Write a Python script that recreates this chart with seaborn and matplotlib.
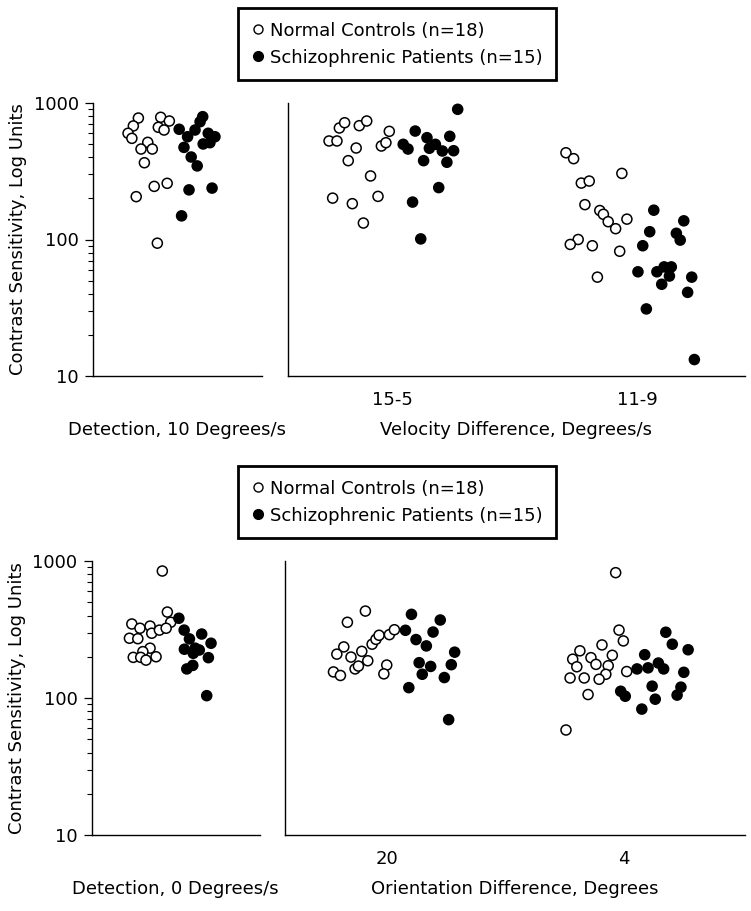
"""
plot.py - contrast sensitivity, controls vs schizophrenic patients (two rows of panels).
"""
import numpy as np
import pandas as pd
import matplotlib
matplotlib.use("Agg")
import matplotlib.pyplot as plt
import matplotlib.ticker as mticker
from matplotlib.lines import Line2D
import seaborn as sns

# --- data: sensitivity values and horizontal jitter per point ---
DET10_CTRL = [776, 679, 600, 551, 786, 738, 664, 634, 515, 460, 460, 365, 258, 245, 206, 94]
DET10_CTRL_JIT = [-0.140, -0.161, -0.183, -0.167, -0.047, -0.011, -0.057, -0.033, -0.101, -0.129,
                  -0.082, -0.115, -0.020, -0.074, -0.149, -0.061]
DET10_PAT = [642, 566, 634, 729, 794, 600, 566, 501, 512, 473, 402, 346, 231, 238, 149]
DET10_PAT_JIT = [0.030, 0.065, 0.096, 0.117, 0.128, 0.151, 0.179, 0.130, 0.158, 0.050,
                 0.080, 0.105, 0.071, 0.167, 0.040]

VEL155_CTRL = [527, 527, 656, 717, 682, 738, 620, 484, 512, 468, 378, 292, 201, 183, 207, 132]
VEL155_CTRL_JIT = [-0.283, -0.250, -0.240, -0.218, -0.157, -0.126, -0.032, -0.065, -0.046, -0.170,
                   -0.203, -0.110, -0.268, -0.186, -0.079, -0.140]
VEL155_PAT = [899, 623, 557, 570, 498, 460, 466, 498, 445, 447, 378, 368, 240, 188, 101]
VEL155_PAT_JIT = [0.253, 0.076, 0.125, 0.220, 0.026, 0.046, 0.135, 0.160, 0.189, 0.236,
                  0.111, 0.208, 0.174, 0.065, 0.099]

VEL119_CTRL = [432, 391, 305, 259, 268, 180, 163, 153, 135, 120, 141, 100, 92, 90, 82, 53]
VEL119_CTRL_JIT = [-0.296, -0.264, -0.063, -0.232, -0.199, -0.217, -0.155, -0.140, -0.120, -0.089,
                   -0.042, -0.245, -0.278, -0.186, -0.072, -0.165]
VEL119_PAT = [164, 137, 114, 111, 99, 90, 58, 58, 63, 63, 54, 53, 47, 41, 31, 13.2]
VEL119_PAT_JIT = [0.070, 0.195, 0.053, 0.164, 0.180, 0.024, 0.004, 0.083, 0.113, 0.143,
                  0.135, 0.228, 0.103, 0.211, 0.039, 0.239]

DET0_CTRL = [845, 424, 357, 347, 323, 335, 297, 313, 323, 273, 271, 231, 218, 198, 198, 189, 200]
DET0_CTRL_JIT = [-0.049, -0.028, -0.014, -0.176, -0.142, -0.100, -0.093, -0.061, -0.033, -0.186,
                 -0.151, -0.100, -0.130, -0.170, -0.139, -0.117, -0.075]
DET0_PAT = [382, 313, 270, 293, 251, 227, 231, 224, 212, 197, 173, 163, 104]
DET0_PAT_JIT = [0.020, 0.042, 0.064, 0.115, 0.154, 0.043, 0.088, 0.105, 0.080, 0.143,
                0.078, 0.053, 0.136]

ORI20_CTRL = [431, 357, 236, 209, 155, 146, 199, 219, 187, 163, 171, 247, 268, 287, 290, 315, 174, 150]
ORI20_CTRL_JIT = [-0.132, -0.207, -0.222, -0.251, -0.265, -0.236, -0.192, -0.147, -0.122, -0.175,
                  -0.161, -0.104, -0.088, -0.075, -0.032, -0.011, -0.043, -0.055]
ORI20_PAT = [408, 371, 312, 303, 267, 240, 216, 181, 170, 175, 149, 141, 119, 69.5]
ORI20_PAT_JIT = [0.060, 0.180, 0.035, 0.150, 0.079, 0.122, 0.240, 0.092, 0.140, 0.226,
                 0.105, 0.197, 0.049, 0.215]

ORI4_CTRL = [822, 313, 261, 244, 221, 192, 197, 205, 169, 176, 172, 149, 156, 140, 140, 137, 106, 58.4]
ORI4_CTRL_JIT = [-0.089, -0.075, -0.057, -0.146, -0.238, -0.268, -0.192, -0.103, -0.251, -0.171,
                 -0.120, -0.130, -0.043, -0.279, -0.220, -0.158, -0.204, -0.296]
ORI4_PAT = [302, 247, 225, 207, 163, 166, 180, 163, 154, 122, 120, 112, 103, 98, 105, 83]
ORI4_PAT_JIT = [0.120, 0.147, 0.213, 0.032, 0.000, 0.046, 0.089, 0.111, 0.195, 0.063,
                0.183, -0.068, -0.049, 0.076, 0.167, 0.020]

VEL_TICKS = ["15-5", "11-9"]
ORI_TICKS = ["20", "4"]
LEGEND_LABELS = ["Normal Controls (n=18)", "Schizophrenic Patients (n=15)"]
Y_LABEL = "Contrast Sensitivity, Log Units"

FS = 13


def _frame(groups):
    """Long table: one row per subject, x = category index + jitter."""
    filas = []
    for idx, c_val, c_jit, p_val, p_jit in groups:
        for v, j in zip(c_val, c_jit):
            filas.append({"x": idx + j, "sens": v, "grupo": "ctrl"})
        for v, j in zip(p_val, p_jit):
            filas.append({"x": idx + j, "sens": v, "grupo": "pat"})
    return pd.DataFrame(filas)


def _panel(ax, df, xlim, xlabel, ticks=None, ticklabels=None, show_y=True):
    sns.scatterplot(data=df, x="x", y="sens", hue="grupo",
                    palette={"ctrl": "white", "pat": "black"},
                    edgecolor="black", linewidth=1.1, s=52,
                    legend=False, ax=ax, zorder=3, clip_on=False)
    ax.set_yscale("log")
    ax.set_ylim(10, 1000)
    ax.set_xlim(*xlim)
    sns.despine(ax=ax)
    for sp in ("left", "bottom"):
        ax.spines[sp].set_linewidth(1.0)
        ax.spines[sp].set_color("black")
    if show_y:
        ax.set_yticks([10, 100, 1000])
        ax.set_yticklabels(["10", "100", "1000"], fontsize=FS)
        ax.yaxis.set_minor_locator(mticker.LogLocator(base=10, subs=np.arange(2, 10)))
        ax.yaxis.set_minor_formatter(mticker.NullFormatter())
        ax.tick_params(axis="y", which="major", length=6, width=0.9, pad=4, colors="black")
        ax.tick_params(axis="y", which="minor", length=3.5, width=0.8, colors="black")
        ax.set_ylabel(Y_LABEL, fontsize=FS, labelpad=5)
    else:
        ax.tick_params(axis="y", which="both", left=False, labelleft=False)
        ax.set_ylabel("")
    if ticks is None:
        ax.set_xticks([])
    else:
        ax.set_xticks(ticks)
        ax.set_xticklabels(ticklabels, fontsize=FS)
    ax.tick_params(axis="x", length=0, pad=11, colors="black")
    ax.set_xlabel(xlabel, fontsize=FS)
    ax.xaxis.set_label_coords(0.5, -0.165)


def _legend(fig, top):
    handles = [
        Line2D([], [], ls="none", marker="o", ms=6.5, mfc="white", mec="black", mew=1.0),
        Line2D([], [], ls="none", marker="o", ms=7, mfc="black", mec="black"),
    ]
    leg = fig.legend(handles, LEGEND_LABELS, loc="upper left", bbox_to_anchor=(238 / 751, top),
                     fontsize=FS, frameon=True, fancybox=False, edgecolor="black",
                     framealpha=1.0, borderaxespad=0, borderpad=0.75, labelspacing=0.5,
                     handlelength=0.7, handletextpad=0.3)
    leg.get_frame().set_linewidth(2.0)


sns.set_style("ticks")
plt.rcParams["font.family"] = ["DejaVu Sans"]
plt.rcParams["text.color"] = "black"
plt.rcParams["axes.labelcolor"] = "black"
plt.rcParams["xtick.color"] = "black"
plt.rcParams["ytick.color"] = "black"
plt.rcParams["axes.edgecolor"] = "black"

fig = plt.figure(figsize=(7.51, 9.11), dpi=100)

ax_tl = fig.add_axes([93 / 751, 1 - 376 / 911, 169 / 751, 273 / 911])
ax_tr = fig.add_axes([288 / 751, 1 - 376 / 911, 457 / 751, 273 / 911])
ax_bl = fig.add_axes([91.5 / 751, 1 - 835 / 911, 168.5 / 751, 274 / 911])
ax_br = fig.add_axes([285 / 751, 1 - 835 / 911, 460 / 751, 274 / 911])

_panel(ax_tl, _frame([(0, DET10_CTRL, DET10_CTRL_JIT, DET10_PAT, DET10_PAT_JIT)]),
       (-0.329, 0.375), "Detection, 10 Degrees/s")
_panel(ax_tr, _frame([(0, VEL155_CTRL, VEL155_CTRL_JIT, VEL155_PAT, VEL155_PAT_JIT),
                      (1, VEL119_CTRL, VEL119_CTRL_JIT, VEL119_PAT, VEL119_PAT_JIT)]),
       (-0.454, 1.45), "Velocity Difference, Degrees/s",
       ticks=[-0.02, 1.0], ticklabels=VEL_TICKS, show_y=False)
_panel(ax_bl, _frame([(0, DET0_CTRL, DET0_CTRL_JIT, DET0_PAT, DET0_PAT_JIT)]),
       (-0.344, 0.358), "Detection, 0 Degrees/s")
_panel(ax_br, _frame([(0, ORI20_CTRL, ORI20_CTRL_JIT, ORI20_PAT, ORI20_PAT_JIT),
                      (1, ORI4_CTRL, ORI4_CTRL_JIT, ORI4_PAT, ORI4_PAT_JIT)]),
       (-0.467, 1.45), "Orientation Difference, Degrees",
       ticks=[-0.04, 0.944], ticklabels=ORI_TICKS, show_y=False)

_legend(fig, 1 - 8 / 911)
_legend(fig, 1 - 466 / 911)

fig.savefig("out.png", dpi=100)
plt.close(fig)
